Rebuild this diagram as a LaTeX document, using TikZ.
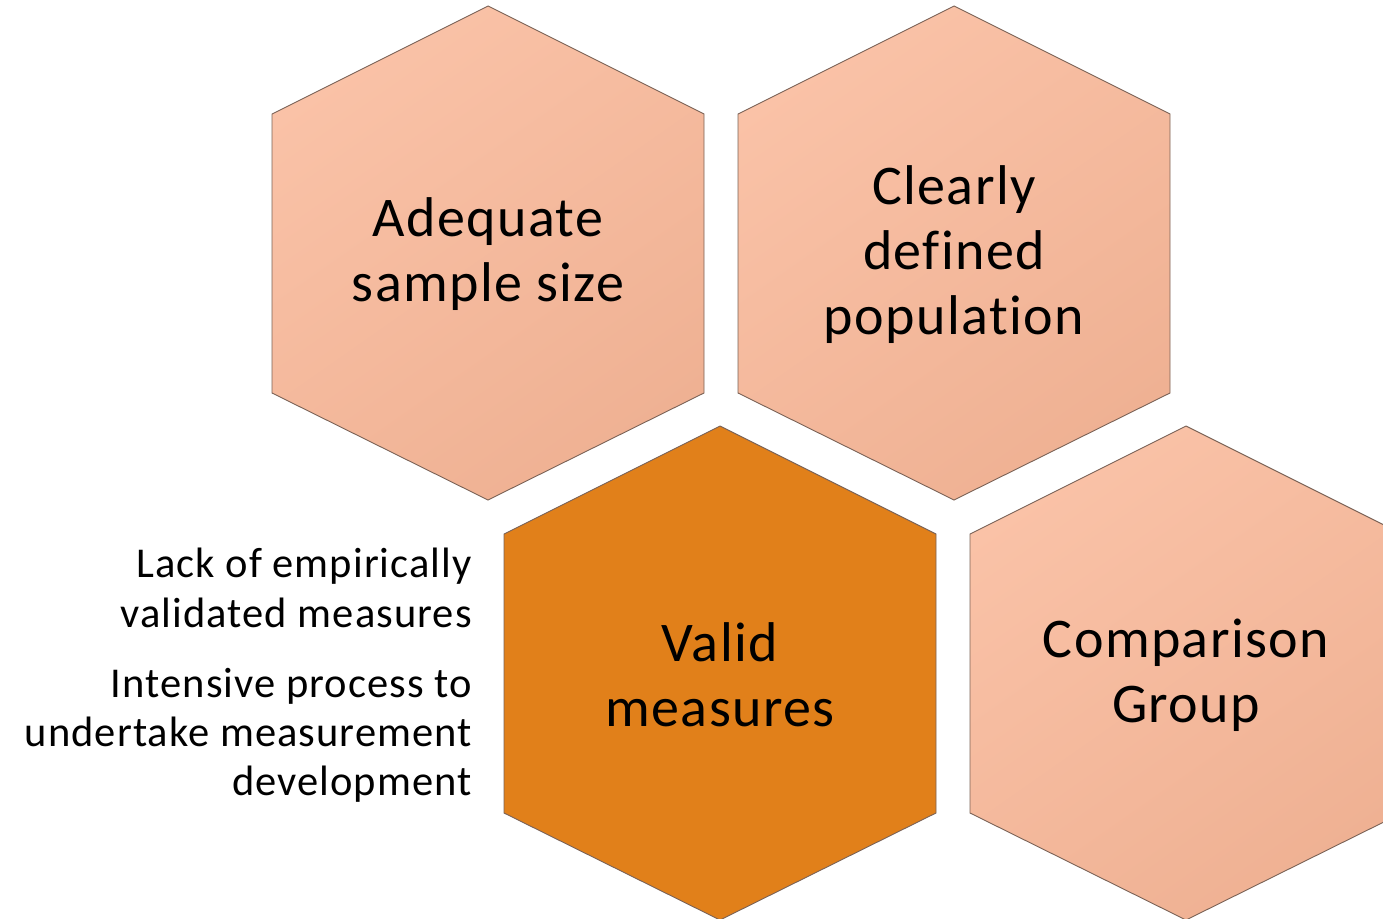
\documentclass[tikz,border=0pt]{standalone}
\usepackage{fontspec}
\setmainfont{Carlito}[Ligatures={NoCommon}, LetterSpace=2.5]
\definecolor{salmonA}{HTML}{FAC2A7}
\definecolor{salmonB}{HTML}{EFB193}
\definecolor{orangeH}{HTML}{E1801A}
\definecolor{edgeC}{HTML}{7A6256}
\tikzset{
  hexlight/.style={draw=edgeC, line width=0.9pt, top color=salmonA, bottom color=salmonB, shading angle=35},
  hexdark/.style={draw=edgeC, line width=0.9pt, fill=orangeH},
  hextext/.style={align=center, inner sep=0pt, font=\fontsize{56}{65}\selectfont},
  sidetext/.style={anchor=base east, inner sep=0pt, font=\fontsize{42.5}{49}\selectfont}
}
\newcommand\myhex[3]{% style, center x, top y
  \path[#1] (#2-216,#3+108) -- (#2,#3) -- (#2+216,#3+108) -- (#2+216,#3+387)
    -- (#2,#3+494) -- (#2-216,#3+387) -- cycle;}
\begin{document}
\begin{tikzpicture}[x=1pt,y=-1pt]
\useasboundingbox (0,0) rectangle (1383,918);
\clip (0,0) rectangle (1383,918);
\myhex{hexlight}{488}{6}
\myhex{hexlight}{954}{6}
\myhex{hexdark}{720}{426}
\myhex{hexlight}{1186}{426}
\node[hextext] (adequate) at (488,254) {Adequate\\sample size};
\node[hextext] (clearly) at (954,255) {Clearly\\defined\\population};
\node[hextext] (valid) at (720,675) {Valid\\measures};
\node[hextext] (comparison) at (1186,675) {Comparison\\Group};
\node[sidetext] (l1) at (472,577) {Lack of empirically};
\node[sidetext] (l2) at (472,627) {validated measures};
\node[sidetext] (l3) at (472,697) {Intensive process to};
\node[sidetext] (l4) at (472,746) {undertake measurement};
\node[sidetext] (l5) at (472,795) {development};
\end{tikzpicture}
\end{document}
